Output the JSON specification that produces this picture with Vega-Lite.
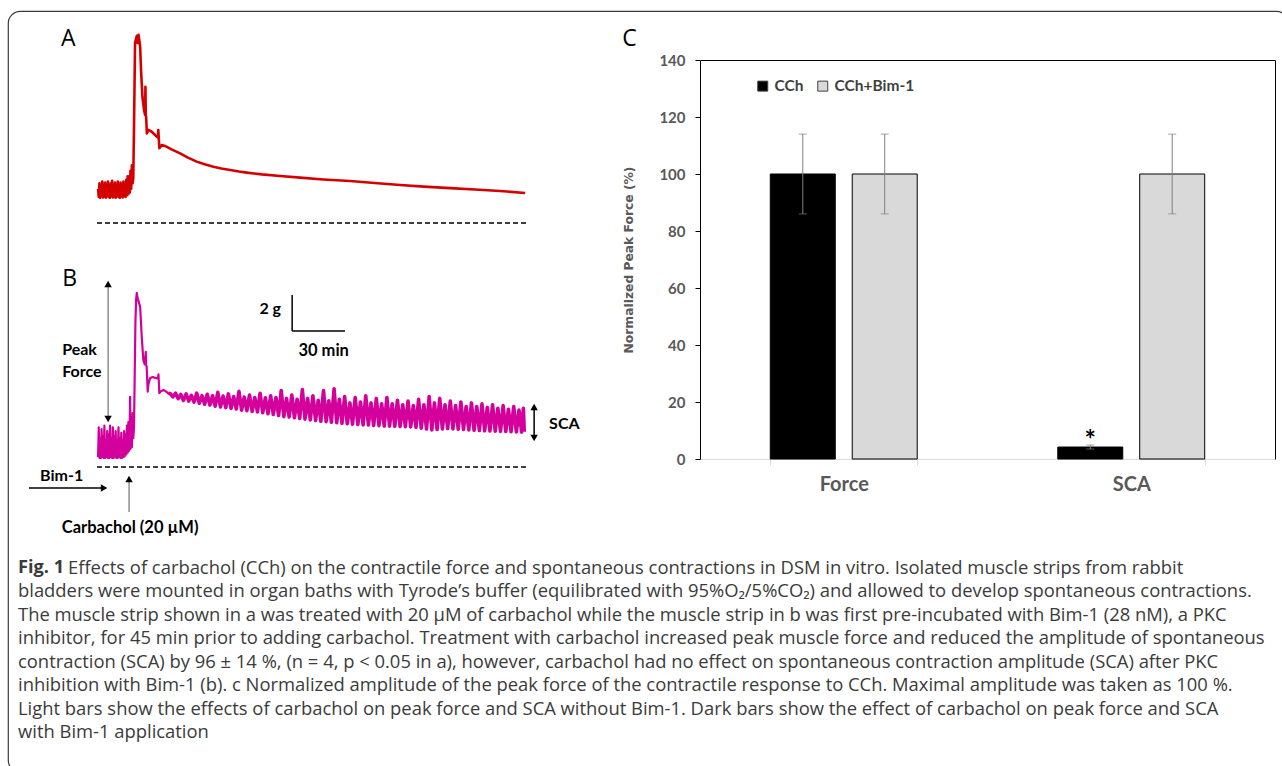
{
  "$schema": "https://vega.github.io/schema/vega-lite/v6.json",
  "width": 1280,
  "height": 761,
  "autosize": {"type": "none"},
  "padding": {"left": 8, "top": 11, "right": -6, "bottom": -6},
  "background": "white",
  "config": {
    "view": {"stroke": "#3a3a3a", "strokeWidth": 1.2, "cornerRadius": 12},
    "axis": {"grid": false}
  },
  "datasets": {
    "traceA": [
      {"t":0,"g":1.9},{"t":0.4,"g":1.45},{"t":0.8,"g":2.2},{"t":1.2,"g":1.4},{"t":1.6,"g":2.05},{"t":2.0,"g":1.5},{"t":2.4,"g":2.3},{"t":2.8,"g":1.42},{"t":3.2,"g":1.95},{"t":3.6,"g":1.48},{"t":4.0,"g":2.25},{"t":4.4,"g":1.4},{"t":4.8,"g":2.1},{"t":5.2,"g":1.5},{"t":5.6,"g":2.3},{"t":6.0,"g":1.45},{"t":6.4,"g":1.9},{"t":6.8,"g":1.4},{"t":7.2,"g":2.2},{"t":7.6,"g":1.5},{"t":8.0,"g":2.35},{"t":8.4,"g":1.42},{"t":8.8,"g":2.0},{"t":9.2,"g":1.45},{"t":9.6,"g":2.25},{"t":10.0,"g":1.4},{"t":10.4,"g":2.1},{"t":10.8,"g":1.5},{"t":11.2,"g":2.3},{"t":11.6,"g":1.45},{"t":12.0,"g":2.0},{"t":12.4,"g":1.4},{"t":12.8,"g":2.25},{"t":13.2,"g":1.48},{"t":13.6,"g":2.15},{"t":14.0,"g":1.42},{"t":14.4,"g":2.3},{"t":14.8,"g":1.5},{"t":15.2,"g":2.05},{"t":15.6,"g":1.45},{"t":16.0,"g":2.4},{"t":16.4,"g":1.55},{"t":16.8,"g":2.6},{"t":17.2,"g":1.6},{"t":17.6,"g":2.6},{"t":18.0,"g":1.7},{"t":18.4,"g":2.9},{"t":18.8,"g":1.9},{"t":19.2,"g":3.2},{"t":19.6,"g":2.2},{"t":20.0,"g":2.5},{"t":20.5,"g":6.0},{"t":21.0,"g":10.0},{"t":21.5,"g":10.2},{"t":22.0,"g":10.4},{"t":22.5,"g":10.0},{"t":23.0,"g":10.45},{"t":23.5,"g":10.1},{"t":23.9,"g":9.8},{"t":24.4,"g":8.5},{"t":25.2,"g":7.0},{"t":26.1,"g":6.28},{"t":26.7,"g":6.0},{"t":26.9,"g":7.57},{"t":27.1,"g":6.0},{"t":27.3,"g":5.9},{"t":27.7,"g":4.98},{"t":28.6,"g":5.17},{"t":30.5,"g":5.07},{"t":33.3,"g":4.8},{"t":34.0,"g":4.75},{"t":34.2,"g":5.17},{"t":34.8,"g":4.15},{"t":36.2,"g":4.33},{"t":38.0,"g":4.28},{"t":42.0,"g":4.08},{"t":46.6,"g":3.87},{"t":51.0,"g":3.63},{"t":56.0,"g":3.41},{"t":60.5,"g":3.26},{"t":65.5,"g":3.13},{"t":70.0,"g":3.03},{"t":75.0,"g":2.94},{"t":80.0,"g":2.86},{"t":84.4,"g":2.8},{"t":93.0,"g":2.7},{"t":103.4,"g":2.61},{"t":114.7,"g":2.52},{"t":128.0,"g":2.42},{"t":143.1,"g":2.33},{"t":157.0,"g":2.22},{"t":171.5,"g":2.11},{"t":185.0,"g":2.02},{"t":199.9,"g":1.94},{"t":214.0,"g":1.86},{"t":228.3,"g":1.78},{"t":242.5,"g":1.67}
    ],
    "traceB": [
      {"t":0,"g":0.55},{"t":0.4,"g":2.2},{"t":0.8,"g":0.5},{"t":1.2,"g":1.6},{"t":1.6,"g":0.5},{"t":2.0,"g":2.1},{"t":2.4,"g":0.55},{"t":2.8,"g":1.7},{"t":3.2,"g":0.5},{"t":3.6,"g":2.3},{"t":4.0,"g":0.5},{"t":4.4,"g":1.5},{"t":4.8,"g":0.55},{"t":5.2,"g":2.0},{"t":5.6,"g":0.5},{"t":6.0,"g":1.8},{"t":6.4,"g":0.5},{"t":6.8,"g":2.3},{"t":7.2,"g":0.55},{"t":7.6,"g":1.6},{"t":8.0,"g":0.5},{"t":8.4,"g":2.2},{"t":8.8,"g":0.5},{"t":9.2,"g":1.7},{"t":9.6,"g":0.55},{"t":10.0,"g":2.0},{"t":10.4,"g":0.5},{"t":10.8,"g":1.5},{"t":11.2,"g":0.5},{"t":11.6,"g":2.2},{"t":12.0,"g":0.55},{"t":12.4,"g":1.6},{"t":12.8,"g":0.5},{"t":13.2,"g":1.9},{"t":13.6,"g":0.5},{"t":14.0,"g":1.5},{"t":14.4,"g":0.55},{"t":14.8,"g":2.0},{"t":15.2,"g":0.6},{"t":15.6,"g":1.8},{"t":16.0,"g":0.7},{"t":16.4,"g":2.3},{"t":16.8,"g":0.8},{"t":17.2,"g":2.5},{"t":17.6,"g":0.9},{"t":18.0,"g":2.4},{"t":18.2,"g":3.9},{"t":18.4,"g":1.0},{"t":18.8,"g":2.8},{"t":19.2,"g":1.1},{"t":19.6,"g":3.0},{"t":20.0,"g":1.6},{"t":20.4,"g":2.2},{"t":20.8,"g":5.0},{"t":21.2,"g":8.0},{"t":21.6,"g":9.3},{"t":22.0,"g":9.67},{"t":22.4,"g":9.4},{"t":23.0,"g":9.2},{"t":23.9,"g":8.9},{"t":24.8,"g":7.24},{"t":25.7,"g":5.94},{"t":26.5,"g":5.7},{"t":27.1,"g":6.4},{"t":27.3,"g":5.7},{"t":27.6,"g":5.57},{"t":28.2,"g":4.18},{"t":28.6,"g":4.6},{"t":29.5,"g":4.93},{"t":31.0,"g":5.0},{"t":32.5,"g":4.95},{"t":34.0,"g":4.92},{"t":34.3,"g":5.15},{"t":34.8,"g":4.1},{"t":35.5,"g":4.2},{"t":37.1,"g":4.28},{"t":38.5,"g":4.2},{"t":40.0,"g":4.08},
      {"t":41.0,"g":4.08},{"t":42.5,"g":3.9},{"t":44.0,"g":4.1},{"t":45.5,"g":3.8},{"t":47.0,"g":4.03},{"t":48.5,"g":3.7},{"t":50.0,"g":4.06},{"t":51.5,"g":3.66},{"t":53.0,"g":3.98},{"t":54.5,"g":3.61},{"t":56.0,"g":4.1},{"t":57.5,"g":3.54},{"t":59.0,"g":3.96},{"t":60.5,"g":3.49},{"t":62.0,"g":4.04},{"t":63.5,"g":3.44},{"t":65.0,"g":3.96},{"t":66.5,"g":3.38},{"t":68.0,"g":4.15},{"t":69.5,"g":3.34},{"t":71.0,"g":3.94},{"t":72.5,"g":3.3},{"t":74.0,"g":4.06},{"t":75.5,"g":3.26},{"t":77.0,"g":3.91},{"t":78.5,"g":3.22},{"t":80.0,"g":4.2},{"t":81.5,"g":3.16},{"t":83.0,"g":3.88},{"t":84.5,"g":3.13},{"t":86.0,"g":4.0},{"t":87.5,"g":3.09},{"t":89.0,"g":3.86},{"t":90.5,"g":3.06},{"t":92.0,"g":4.1},{"t":93.5,"g":3.02},{"t":95.0,"g":3.84},{"t":96.5,"g":2.96},{"t":98.0,"g":3.96},{"t":99.5,"g":2.92},{"t":101.0,"g":3.86},{"t":102.5,"g":2.86},{"t":104.0,"g":4.25},{"t":105.5,"g":2.8},{"t":107.0,"g":3.81},{"t":108.5,"g":2.78},{"t":110.0,"g":4.0},{"t":111.5,"g":2.74},{"t":113.0,"g":3.76},{"t":114.5,"g":2.7},{"t":116.0,"g":4.3},{"t":117.5,"g":2.66},{"t":119.0,"g":3.81},{"t":120.5,"g":2.62},{"t":122.0,"g":3.96},{"t":123.5,"g":2.58},{"t":125.0,"g":3.71},{"t":126.5,"g":2.54},{"t":128.0,"g":4.25},{"t":129.5,"g":2.52},{"t":131.0,"g":3.68},{"t":132.5,"g":2.49},{"t":134.0,"g":4.35},{"t":135.5,"g":2.46},{"t":137.0,"g":3.76},{"t":138.5,"g":2.43},{"t":140.0,"g":3.91},{"t":141.5,"g":2.4},{"t":143.0,"g":3.56},{"t":144.5,"g":2.38},{"t":146.0,"g":3.86},{"t":147.5,"g":2.36},{"t":149.0,"g":3.61},{"t":150.5,"g":2.34},{"t":152.0,"g":3.96},{"t":153.5,"g":2.33},{"t":155.0,"g":3.56},{"t":156.5,"g":2.31},{"t":158.0,"g":3.81},{"t":159.5,"g":2.3},{"t":161.0,"g":3.51},{"t":162.5,"g":2.28},{"t":164.0,"g":3.86},{"t":165.5,"g":2.27},{"t":167.0,"g":3.51},{"t":168.5,"g":2.26},{"t":170.0,"g":3.71},{"t":171.5,"g":2.25},{"t":173.0,"g":3.46},{"t":174.5,"g":2.24},{"t":176.0,"g":3.66},{"t":177.5,"g":2.23},{"t":179.0,"g":3.41},{"t":180.5,"g":2.21},{"t":182.0,"g":3.76},{"t":183.5,"g":2.16},{"t":185.0,"g":3.46},{"t":186.5,"g":2.11},{"t":188.0,"g":3.91},{"t":189.5,"g":2.06},{"t":191.0,"g":3.56},{"t":192.5,"g":2.08},{"t":194.0,"g":3.81},{"t":195.5,"g":2.12},{"t":197.0,"g":3.46},{"t":198.5,"g":2.14},{"t":200.0,"g":3.66},{"t":201.5,"g":2.12},{"t":203.0,"g":3.41},{"t":204.5,"g":2.1},{"t":206.0,"g":3.61},{"t":207.5,"g":2.08},{"t":209.0,"g":3.36},{"t":210.5,"g":2.06},{"t":212.0,"g":3.56},{"t":213.5,"g":2.04},{"t":215.0,"g":3.36},{"t":216.5,"g":2.03},{"t":218.0,"g":3.51},{"t":219.5,"g":2.01},{"t":221.0,"g":3.31},{"t":222.5,"g":2.0},{"t":224.0,"g":3.46},{"t":225.5,"g":1.99},{"t":227.0,"g":3.26},{"t":228.5,"g":1.98},{"t":230.0,"g":3.41},{"t":231.5,"g":1.97},{"t":233.0,"g":3.21},{"t":234.5,"g":1.96},{"t":236.0,"g":3.36},{"t":237.5,"g":1.95},{"t":239.0,"g":3.16},{"t":240.5,"g":1.94},{"t":241.5,"g":3.26},{"t":242.0,"g":1.96}
    ],
    "bars": [
      {"measure":"Force","group":"CCh","value":100,"lo":86,"hi":114},
      {"measure":"Force","group":"CCh+Bim-1","value":100,"lo":86,"hi":114},
      {"measure":"SCA","group":"CCh","value":4.2,"lo":3.5,"hi":4.9},
      {"measure":"SCA","group":"CCh+Bim-1","value":100,"lo":86,"hi":114}
    ],
    "caption": [
      {"line":2,"text":"bladders were mounted in organ baths with Tyrode’s buffer (equilibrated with 95%O₂/5%CO₂) and allowed to develop spontaneous contractions."},
      {"line":3,"text":"The muscle strip shown in a was treated with 20 µM of carbachol while the muscle strip in b was first pre-incubated with Bim-1 (28 nM), a PKC"},
      {"line":4,"text":"inhibitor, for 45 min prior to adding carbachol. Treatment with carbachol increased peak muscle force and reduced the amplitude of spontaneous"},
      {"line":5,"text":"contraction (SCA) by 96 ± 14 %, (n = 4, p < 0.05 in a), however, carbachol had no effect on spontaneous contraction amplitude (SCA) after PKC"},
      {"line":6,"text":"inhibition with Bim-1 (b). c Normalized amplitude of the peak force of the contractile response to CCh. Maximal amplitude was taken as 100 %."},
      {"line":7,"text":"Light bars show the effects of carbachol on peak force and SCA without Bim-1. Dark bars show the effect of carbachol on peak force and SCA"},
      {"line":8,"text":"with Bim-1 application"}
    ]
  },
  "layer": [
    {
      "layer": [
        {
          "data": {"name": "traceA"},
          "mark": {"type": "line", "color": "#d40000", "strokeWidth": 2.6, "strokeJoin": "round"},
          "encoding": {
            "x": {"field": "t", "type": "quantitative", "scale": {"domain": [-50, 285], "range": [2, 592], "nice": false, "zero": false}, "axis": null},
            "y": {"field": "g", "type": "quantitative", "scale": {"domain": [-2, 12], "range": [248, -4], "nice": false, "zero": false}, "axis": null}
          }
        },
        {
          "data": {"values": [{"t": -0.6, "t2": 243.5, "g": 0}]},
          "mark": {"type": "rule", "color": "#000", "strokeWidth": 1.5, "strokeDash": [5, 3]},
          "encoding": {
            "x": {"field": "t", "type": "quantitative", "axis": null},
            "x2": {"field": "t2"},
            "y": {"field": "g", "type": "quantitative", "axis": null}
          }
        },
        {
          "data": {"values": [{"t": -21.0, "g": 9.83, "label": "A"}, {"t": 297.6, "g": 9.83, "label": "C"}]},
          "mark": {"type": "text", "align": "left", "baseline": "alphabetic", "font": "Open Sans", "fontSize": 23, "color": "#000"},
          "encoding": {
            "x": {"field": "t", "type": "quantitative", "axis": null},
            "y": {"field": "g", "type": "quantitative", "axis": null},
            "text": {"field": "label"}
          }
        }
      ]
    },
    {
      "layer": [
        {
          "data": {"name": "traceB"},
          "transform": [{"filter": "datum.t <= 41"}],
          "mark": {"type": "line", "color": "#d4009b", "strokeWidth": 2.2, "strokeJoin": "round"},
          "encoding": {
            "x": {"field": "t", "type": "quantitative", "scale": {"domain": [-50, 285], "range": [2, 592], "nice": false, "zero": false}, "axis": null},
            "y": {"field": "g", "type": "quantitative", "scale": {"domain": [-5, 12], "range": [546, 240], "nice": false, "zero": false}, "axis": null}
          }
        },
        {
          "data": {"name": "traceB"},
          "transform": [{"filter": "datum.t >= 40"}],
          "mark": {"type": "line", "color": "#d4009b", "strokeWidth": 3.6, "strokeJoin": "round"},
          "encoding": {
            "x": {"field": "t", "type": "quantitative", "axis": null},
            "y": {"field": "g", "type": "quantitative", "axis": null}
          }
        },
        {
          "data": {"values": [{"t": -0.6, "t2": 243.5, "g": 0}]},
          "mark": {"type": "rule", "color": "#000", "strokeWidth": 1.5, "strokeDash": [5, 3]},
          "encoding": {
            "x": {"field": "t", "type": "quantitative", "axis": null},
            "x2": {"field": "t2"},
            "y": {"field": "g", "type": "quantitative", "axis": null}
          }
        },
        {
          "data": {"values": [{"t": 5.7, "g": 2.7, "g2": 10.2}, {"t": 17.6, "g": -2.5, "g2": -0.7}]},
          "mark": {"type": "rule", "color": "#555", "strokeWidth": 1},
          "encoding": {
            "x": {"field": "t", "type": "quantitative", "axis": null},
            "y": {"field": "g", "type": "quantitative", "axis": null},
            "y2": {"field": "g2"}
          }
        },
        {
          "data": {"values": [{"t": 247.6, "g": 1.6, "g2": 3.35}, {"t": 110.2, "g": 7.56, "g2": 9.56}]},
          "mark": {"type": "rule", "color": "#000", "strokeWidth": 1.5},
          "encoding": {
            "x": {"field": "t", "type": "quantitative", "axis": null},
            "y": {"field": "g", "type": "quantitative", "axis": null},
            "y2": {"field": "g2"}
          }
        },
        {
          "data": {"values": [{"t": -39.2, "t2": 3.5, "g": -1.17}, {"t": 110.2, "t2": 140.2, "g": 7.56}]},
          "mark": {"type": "rule", "color": "#000", "strokeWidth": 1.5},
          "encoding": {
            "x": {"field": "t", "type": "quantitative", "axis": null},
            "x2": {"field": "t2"},
            "y": {"field": "g", "type": "quantitative", "axis": null}
          }
        },
        {
          "data": {"values": [{"t": 5.7, "g": 10.17}, {"t": 247.6, "g": 3.33}, {"t": 17.6, "g": -0.67}]},
          "mark": {"type": "point", "shape": "triangle-up", "filled": true, "color": "#000", "size": 55, "opacity": 1},
          "encoding": {
            "x": {"field": "t", "type": "quantitative", "axis": null},
            "y": {"field": "g", "type": "quantitative", "axis": null}
          }
        },
        {
          "data": {"values": [{"t": 5.7, "g": 2.67}, {"t": 247.6, "g": 1.61}]},
          "mark": {"type": "point", "shape": "triangle-down", "filled": true, "color": "#000", "size": 55, "opacity": 1},
          "encoding": {
            "x": {"field": "t", "type": "quantitative", "axis": null},
            "y": {"field": "g", "type": "quantitative", "axis": null}
          }
        },
        {
          "data": {"values": [{"t": 3.4, "g": -1.17}]},
          "mark": {"type": "point", "shape": "triangle-right", "filled": true, "color": "#000", "size": 55, "opacity": 1},
          "encoding": {
            "x": {"field": "t", "type": "quantitative", "axis": null},
            "y": {"field": "g", "type": "quantitative", "axis": null}
          }
        },
        {
          "data": {"values": [{"t": -20.4, "g": 10.06, "label": "B"}]},
          "mark": {"type": "text", "align": "left", "baseline": "alphabetic", "font": "Open Sans", "fontSize": 23, "color": "#000"},
          "encoding": {
            "x": {"field": "t", "type": "quantitative", "axis": null},
            "y": {"field": "g", "type": "quantitative", "axis": null},
            "text": {"field": "label"}
          }
        },
        {
          "data": {"values": [{"t": -20.4, "g": 6.22, "label": "Peak"}, {"t": -20.4, "g": 5.0, "label": "Force"}, {"t": 256.1, "g": 2.11, "label": "SCA"}, {"t": -32.9, "g": -0.78, "label": "Bim-1"}]},
          "mark": {"type": "text", "align": "left", "baseline": "alphabetic", "font": "Lato", "fontSize": 16, "fontWeight": "bold", "color": "#000"},
          "encoding": {
            "x": {"field": "t", "type": "quantitative", "axis": null},
            "y": {"field": "g", "type": "quantitative", "axis": null},
            "text": {"field": "label"}
          }
        },
        {
          "data": {"values": [{"t": 103.9, "g": 8.5, "label": "2 g"}]},
          "mark": {"type": "text", "align": "right", "baseline": "alphabetic", "font": "Lato", "fontSize": 16, "fontWeight": "bold", "color": "#000"},
          "encoding": {
            "x": {"field": "t", "type": "quantitative", "axis": null},
            "y": {"field": "g", "type": "quantitative", "axis": null},
            "text": {"field": "label"}
          }
        },
        {
          "data": {"values": [{"t": 128.1, "g": 6.17, "label": "30 min"}, {"t": 18.2, "g": -3.67, "label": "Carbachol (20 µM)"}]},
          "mark": {"type": "text", "align": "center", "baseline": "alphabetic", "font": "Lato", "fontSize": 16.5, "fontWeight": "bold", "color": "#000"},
          "encoding": {
            "x": {"field": "t", "type": "quantitative", "axis": null},
            "y": {"field": "g", "type": "quantitative", "axis": null},
            "text": {"field": "label"}
          }
        }
      ]
    },
    {
      "layer": [
        {
          "data": {"name": "bars"},
          "mark": {"type": "bar", "stroke": "#000", "strokeWidth": 1},
          "encoding": {
            "x": {
              "field": "measure", "type": "nominal",
              "scale": {"domain": ["Force", "SCA"], "range": [692, 1267], "paddingInner": 0.489, "paddingOuter": 0.2445},
              "axis": {"orient": "bottom", "offset": -313, "title": null, "labelAngle": 0, "domainColor": "#d9d9d9", "tickColor": "#d9d9d9", "tickBand": "extent", "tickSize": 6, "labelFont": "Lato", "labelFontSize": 20, "labelFontWeight": "bold", "labelColor": "#595959", "labelPadding": 9}
            },
            "xOffset": {"field": "group", "type": "nominal", "scale": {"domain": ["CCh", "CCh+Bim-1"], "paddingInner": 0.207, "paddingOuter": 0}},
            "y": {
              "field": "value", "type": "quantitative",
              "scale": {"domain": [0, 140], "range": [448, 49], "nice": false, "zero": false},
              "axis": {"orient": "left", "offset": -692, "values": [0, 20, 40, 60, 80, 100, 120, 140], "grid": false, "domainColor": "#000", "tickColor": "#000", "tickSize": 5, "labelFont": "Lato", "labelFontSize": 15, "labelFontWeight": "bold", "labelColor": "#595959", "labelPadding": 10, "title": "Normalized Peak Force (%)", "titleFont": "DejaVu Sans", "titleFontSize": 12.3, "titleFontWeight": "bold", "titleColor": "#595959", "titlePadding": 23}
            },
            "color": {
              "field": "group", "type": "nominal",
              "scale": {"domain": ["CCh", "CCh+Bim-1"], "range": ["#000000", "#d9d9d9"]},
              "legend": {"orient": "none", "legendX": 747, "legendY": 67, "direction": "horizontal", "title": null, "symbolType": "square", "symbolSize": 100, "symbolStrokeColor": "#404040", "symbolStrokeWidth": 1, "labelFont": "Lato", "labelFontSize": 15.5, "labelFontWeight": "bold", "labelColor": "#404040", "columnPadding": 11, "labelOffset": 4}
            }
          }
        },
        {
          "data": {"name": "bars"},
          "mark": {"type": "rule", "color": "#7f7f7f", "strokeWidth": 1},
          "encoding": {
            "x": {"field": "measure", "type": "nominal", "axis": null},
            "xOffset": {"field": "group", "type": "nominal"},
            "y": {"field": "lo", "type": "quantitative", "axis": null},
            "y2": {"field": "hi"}
          }
        },
        {
          "data": {"name": "bars"},
          "mark": {"type": "tick", "color": "#7f7f7f", "size": 8, "thickness": 1, "orient": "horizontal"},
          "encoding": {
            "x": {"field": "measure", "type": "nominal", "axis": null},
            "xOffset": {"field": "group", "type": "nominal"},
            "y": {"field": "lo", "type": "quantitative", "axis": null}
          }
        },
        {
          "data": {"name": "bars"},
          "mark": {"type": "tick", "color": "#7f7f7f", "size": 8, "thickness": 1, "orient": "horizontal"},
          "encoding": {
            "x": {"field": "measure", "type": "nominal", "axis": null},
            "xOffset": {"field": "group", "type": "nominal"},
            "y": {"field": "hi", "type": "quantitative", "axis": null}
          }
        },
        {
          "data": {"values": [{"measure": "SCA", "group": "CCh", "value": 3.5, "label": "*"}]},
          "mark": {"type": "text", "font": "Lato", "fontSize": 27, "fontWeight": "bold", "baseline": "alphabetic", "color": "#000"},
          "encoding": {
            "x": {"field": "measure", "type": "nominal", "axis": null},
            "xOffset": {"field": "group", "type": "nominal"},
            "y": {"field": "value", "type": "quantitative", "axis": null},
            "text": {"field": "label"}
          }
        },
        {
          "data": {"name": "bars"},
          "mark": {"type": "bar", "opacity": 0},
          "encoding": {
            "x": {"field": "measure", "type": "nominal", "axis": {"orient": "top", "offset": -49, "labels": false, "ticks": false, "title": null, "domainColor": "#000", "domainWidth": 1}},
            "xOffset": {"field": "group", "type": "nominal"},
            "y": {"field": "value", "type": "quantitative", "axis": {"orient": "right", "offset": -13, "labels": false, "ticks": false, "title": null, "grid": false, "domainColor": "#000", "domainWidth": 1}}
          }
        }
      ],
      "resolve": {"axis": {"x": "independent", "y": "independent"}}
    },
    {
      "layer": [
        {
          "data": {"values": [{"line": 1, "text": "Fig. 1"}]},
          "mark": {"type": "text", "align": "left", "baseline": "middle", "font": "Open Sans", "fontSize": 18.2, "fontWeight": "bold", "color": "#3b3b3b"},
          "encoding": {
            "x": {"datum": 0, "type": "quantitative", "scale": {"domain": [0, 1], "range": [10, 1270]}, "axis": null},
            "y": {"field": "line", "type": "ordinal", "scale": {"type": "point", "domain": [1, 2, 3, 4, 5, 6, 7, 8], "range": [557, 721], "padding": 0}, "axis": null},
            "text": {"field": "text"}
          }
        },
        {
          "data": {"values": [{"line": 1, "text": "Effects of carbachol (CCh) on the contractile force and spontaneous contractions in DSM in vitro. Isolated muscle strips from rabbit"}]},
          "mark": {"type": "text", "align": "left", "baseline": "middle", "font": "Open Sans", "fontSize": 18.4, "color": "#3b3b3b", "dx": 50},
          "encoding": {
            "x": {"datum": 0, "type": "quantitative", "axis": null},
            "y": {"field": "line", "type": "ordinal", "axis": null},
            "text": {"field": "text"}
          }
        },
        {
          "data": {"name": "caption"},
          "mark": {"type": "text", "align": "left", "baseline": "middle", "font": "Open Sans", "fontSize": 18.4, "color": "#3b3b3b"},
          "encoding": {
            "x": {"datum": 0, "type": "quantitative", "axis": null},
            "y": {"field": "line", "type": "ordinal", "axis": null},
            "text": {"field": "text"}
          }
        }
      ]
    }
  ],
  "resolve": {"scale": {"x": "independent", "y": "independent"}}
}
